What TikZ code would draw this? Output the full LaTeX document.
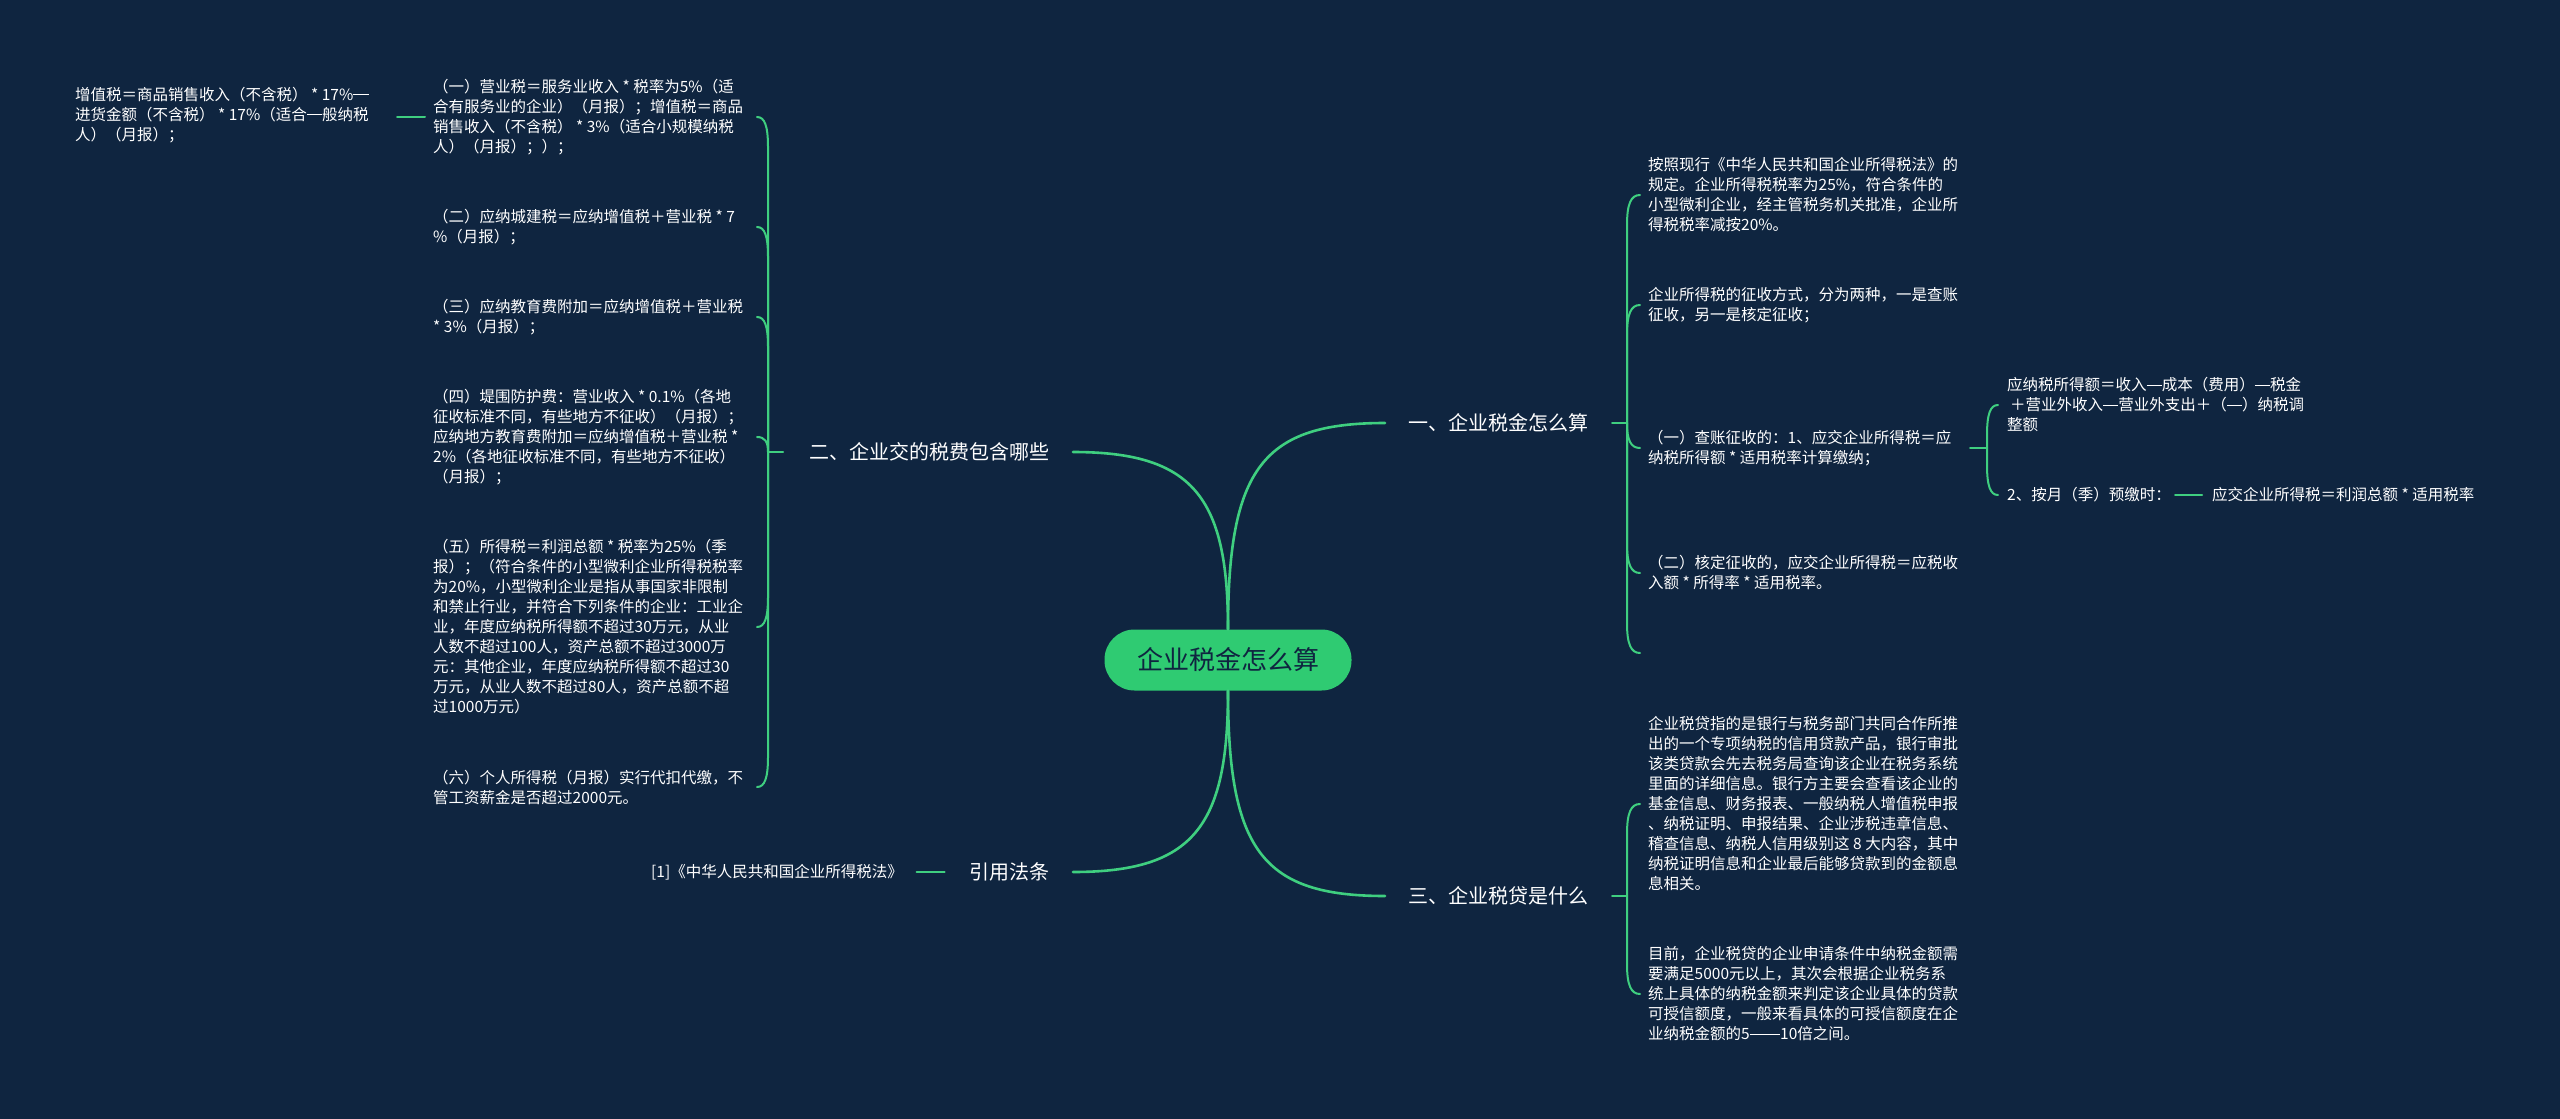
\documentclass[tikz,border=0pt]{standalone}
\usepackage{fontspec}
\setmainfont{Noto Sans CJK SC}
\usetikzlibrary{calc}
\definecolor{bg}{HTML}{0F2540}
\definecolor{gline}{HTML}{3FCF80}
\definecolor{pillc}{HTML}{2FCB72}
\newcommand\fd{\rule[0.33em]{0.98em}{0.07em}}
\newcommand\mmlink[4]{%
  \draw[conn] (#1) -- ($(#1 |- #2)+(0,#3)$) .. controls ($(#1 |- #2)+(0,#3*0.3)$) and ($(#1 |- #2)+(#4*0.3,0)$) .. ($(#1 |- #2)+(#4,0)$);}
\begin{document}
\begin{tikzpicture}[x=1pt,y=-1pt,
  leaf/.style={inner sep=0pt, align=left, text=white, font=\fontsize{15.5}{20}\selectfont},
  lvl/.style={inner sep=0pt, text=white, font=\fontsize{20}{24}\selectfont},
  conn/.style={draw=gline, line width=2pt, line cap=round},
  mainconn/.style={draw=gline, line width=2.6pt, line cap=round}]
\fill[bg] (0,0) rectangle (2560,1119);
\useasboundingbox (0,0) rectangle (2560,1119);

% root
\node[fill=pillc, rounded corners=30pt, minimum width=247pt, minimum height=61pt,
      font=\fontsize{26}{30}\selectfont, text=bg] (root) at (1228,660) {企业税金怎么算};

% level 1
\node[lvl, anchor=west] (A) at (1408,423) {一、企业税金怎么算};
\node[lvl, anchor=east] (B) at (1050,452) {二、企业交的税费包含哪些};
\node[lvl, anchor=west] (C) at (1408,896) {三、企业税贷是什么};
\node[lvl, anchor=east] (D) at (1050,872) {引用法条};

% left children
\node[leaf, anchor=west] (l1) at (433,117) {（一）营业税＝服务业收入 * 税率为5\%（适\\合有服务业的企业）（月报）；增值税＝商品\\销售收入（不含税） * 3\%（适合小规模纳税\\人）（月报）；）；};
\node[leaf, anchor=west] (ll1) at (75,115) {增值税＝商品销售收入（不含税） * 17\%\fd\\进货金额（不含税） * 17\%（适合\fd 般纳税\\人）（月报）；};
\node[leaf, anchor=west] (l2) at (433,227) {（二）应纳城建税＝应纳增值税＋营业税 * 7\\\%（月报）；};
\node[leaf, anchor=west] (l3) at (433,317) {（三）应纳教育费附加＝应纳增值税＋营业税\\ * 3\%（月报）；};
\node[leaf, anchor=west] (l4) at (433,437) {（四）堤围防护费：营业收入 * 0.1\%（各地\\征收标准不同，有些地方不征收）（月报）；\\应纳地方教育费附加＝应纳增值税＋营业税 *\\2\%（各地征收标准不同，有些地方不征收）\\（月报）；};
\node[leaf, anchor=west] (l5) at (433,627) {（五）所得税＝利润总额 * 税率为25\%（季\\报）；（符合条件的小型微利企业所得税税率\\为20\%，小型微利企业是指从事国家非限制\\和禁止行业，并符合下列条件的企业：工业企\\业，年度应纳税所得额不超过30万元，从业\\人数不超过100人，资产总额不超过3000万\\元：其他企业，年度应纳税所得额不超过30\\万元，从业人数不超过80人，资产总额不超\\过1000万元）};
\node[leaf, anchor=west] (l6) at (433,787) {（六）个人所得税（月报）实行代扣代缴，不\\管工资薪金是否超过2000元。};
\node[leaf, anchor=east] (ref) at (903,872) {[1]《中华人民共和国企业所得税法》};

% right children of A
\node[leaf, anchor=west] (r1) at (1648,195) {按照现行《中华人民共和国企业所得税法》的\\规定。企业所得税税率为25\%，符合条件的\\小型微利企业，经主管税务机关批准，企业所\\得税税率减按20\%。};
\node[leaf, anchor=west] (r2) at (1648,305) {企业所得税的征收方式，分为两种，一是查账\\征收，另一是核定征收；};
\node[leaf, anchor=west] (r3) at (1648,448) {（一）查账征收的：1、应交企业所得税＝应\\纳税所得额 * 适用税率计算缴纳；};
\node[leaf, anchor=west] (r4) at (1648,573) {（二）核定征收的，应交企业所得税＝应税收\\入额 * 所得率 * 适用税率。};
\coordinate (r5) at (1648,653);
\node[leaf, anchor=west] (rr1) at (2007,405) {应纳税所得额＝收入\fd 成本（费用）\fd 税金\\\hspace{3pt}＋营业外收入\fd 营业外支出＋（\fd）纳税调\\整额};
\node[leaf, anchor=west] (rr2) at (2007,495) {2、按月（季）预缴时：};
\node[leaf, anchor=west] (rrr) at (2212,495) {应交企业所得税＝利润总额 * 适用税率};

% children of C
\node[leaf, anchor=west] (t1) at (1648,804) {企业税贷指的是银行与税务部门共同合作所推\\出的一个专项纳税的信用贷款产品，银行审批\\该类贷款会先去税务局查询该企业在税务系统\\里面的详细信息。银行方主要会查看该企业的\\基金信息、财务报表、一般纳税人增值税申报\\、纳税证明、申报结果、企业涉税违章信息、\\稽查信息、纳税人信用级别这 8 大内容，其中\\纳税证明信息和企业最后能够贷款到的金额息\\息相关。};
\node[leaf, anchor=west] (t2) at (1648,994) {目前，企业税贷的企业申请条件中纳税金额需\\要满足5000元以上，其次会根据企业税务系\\统上具体的纳税金额来判定该企业具体的贷款\\可授信额度，一般来看具体的可授信额度在企\\业纳税金额的5\fd\fd 10倍之间。};

% main connectors
\draw[mainconn] (root.north) .. controls ($(root.north |- A.west)+(0,45)$) and ($(root.north |- A.west)+(35,0)$) .. ($(A.west)+(-23,0)$);
\draw[mainconn] (root.north) .. controls ($(root.north |- B.east)+(0,45)$) and ($(root.north |- B.east)+(-35,0)$) .. ($(B.east)+(23,0)$);
\draw[mainconn] (root.south) .. controls ($(root.south |- C.west)+(0,-45)$) and ($(root.south |- C.west)+(35,0)$) .. ($(C.west)+(-23,0)$);
\draw[mainconn] (root.south) .. controls ($(root.south |- D.east)+(0,-45)$) and ($(root.south |- D.east)+(-35,0)$) .. ($(D.east)+(23,0)$);

% bracket A
\coordinate (aR) at ($(A.west)+(219,0)$);
\draw[conn] ($(aR)+(-15,0)$) -- (aR);
\mmlink{aR}{r1.west}{30}{13}
\mmlink{aR}{r2.west}{30}{13}
\mmlink{aR}{r3.west}{-25}{13}
\mmlink{aR}{r4.west}{-30}{13}
\mmlink{aR}{r5}{-30}{13}

% bracket r3
\coordinate (qR) at ($(r3.west)+(339,0)$);
\draw[conn] ($(qR)+(-17,0)$) -- (qR);
\mmlink{qR}{rr1.west}{30}{11}
\mmlink{qR}{rr2.west}{-30}{11}
\draw[conn] ($(rrr.west)+(-37,0)$) -- ($(rrr.west)+(-10,0)$);

% bracket B
\coordinate (bL) at ($(B.east)+(-282,0)$);
\draw[conn] ($(bL)+(15,0)$) -- (bL);
\mmlink{bL}{l1.east}{30}{-11}
\mmlink{bL}{l2.east}{30}{-11}
\mmlink{bL}{l3.east}{30}{-11}
\mmlink{bL}{l4.east}{15}{-11}
\mmlink{bL}{l5.east}{-30}{-11}
\mmlink{bL}{l6.east}{-30}{-11}
\draw[conn] ($(l1.west)+(-8,0)$) -- ($(l1.west)+(-36,0)$);

% bracket C
\coordinate (cR) at ($(C.west)+(219,0)$);
\draw[conn] ($(cR)+(-15,0)$) -- (cR);
\mmlink{cR}{t1.west}{30}{13}
\mmlink{cR}{t2.west}{-30}{13}

% D to reference
\draw[conn] ($(D.west)+(-25,0)$) -- ($(D.west)+(-53,0)$);
\end{tikzpicture}
\end{document}
